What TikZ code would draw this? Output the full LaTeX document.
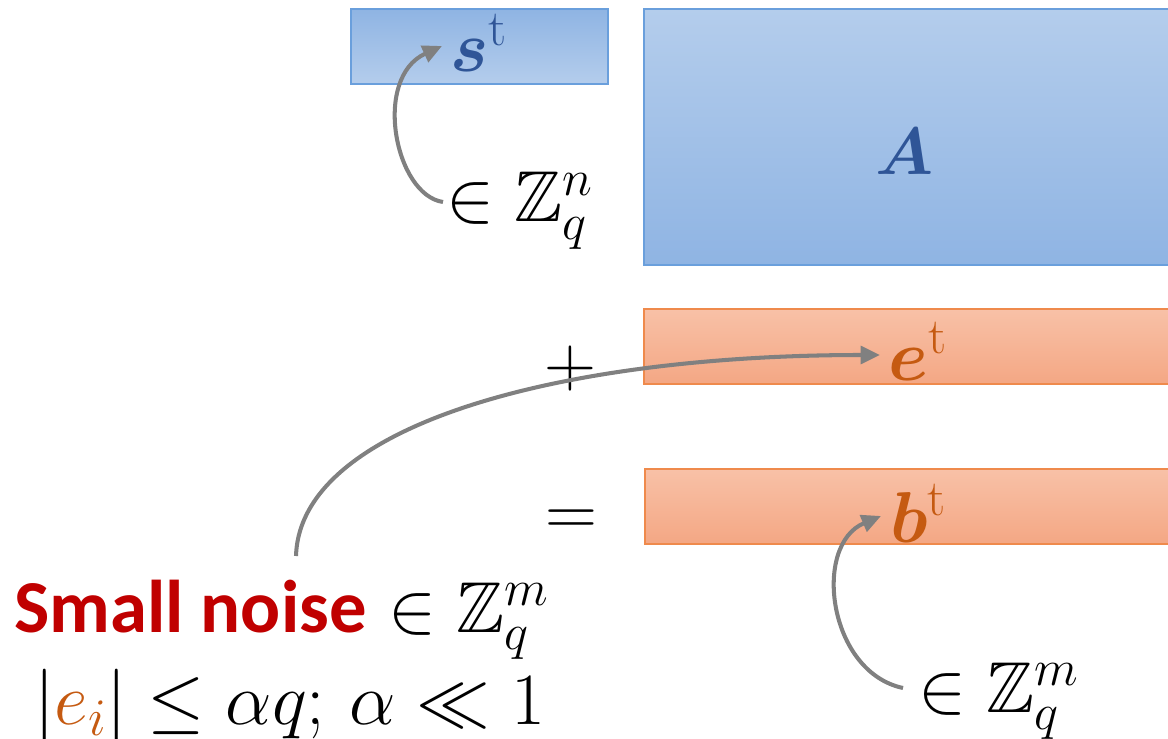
\documentclass[tikz,border=0pt]{standalone}
\usepackage{fix-cm}
\usepackage{amsmath,amssymb,bm}
\usepackage{fontspec}
\newfontfamily\calfont{Carlito}
\usetikzlibrary{arrows.meta}
\definecolor{bluetop}{HTML}{8FB4E3}
\definecolor{bluebot}{HTML}{B4CDEC}
\definecolor{blueline}{HTML}{6A9FDC}
\definecolor{bluetext}{HTML}{2F5597}
\definecolor{orgtop}{HTML}{F8C1A7}
\definecolor{orgbot}{HTML}{F4A784}
\definecolor{orgline}{HTML}{EF8A4C}
\definecolor{orgtext}{HTML}{C55A11}
\definecolor{noisered}{HTML}{C00000}
\definecolor{arrgray}{HTML}{808080}
\DeclareMathSizes{38}{38}{27}{19}
\DeclareMathSizes{41}{41}{29}{21}
\DeclareMathSizes{42}{42}{30}{21}
\tikzset{
  bigtxt/.style={inner sep=0pt, font=\fontsize{41}{46}\selectfont},
  midtxt/.style={inner sep=0pt, font=\fontsize{38}{44}\selectfont},
  bluebox/.style={draw=blueline, line width=0.8pt},
  orgbox/.style={draw=orgline, line width=0.8pt, shading=axis, top color=orgtop, bottom color=orgbot},
  garrow/.style={draw=arrgray, line width=2.3pt, -{Triangle[length=11pt,width=10pt]}}
}
\begin{document}
\begin{tikzpicture}[x=0.02cm,y=-0.02cm]
\useasboundingbox (0,0) rectangle (1168,739);
% boxes
\path[bluebox, shading=axis, top color=bluetop, bottom color=bluebot] (351,9) rectangle (608,84);
\path[bluebox, shading=axis, top color=bluebot, bottom color=bluetop] (644,9) rectangle (1172,265);
\path[orgbox] (644,309) rectangle (1172,384);
\path[orgbox] (645,469) rectangle (1172,544);
% labels
\node[bigtxt, anchor=base west] (s) at (450,72) {$\color{bluetext}\bm{s}^{\mathrm{t}}$};
\node[bigtxt, anchor=base west] (zn) at (446,222) {$\in\mathbb{Z}_q^n$};
\node[midtxt, anchor=base] (A) at (905,175) {$\color{bluetext}\bm{A}$};
\node[bigtxt] (plus) at (570,368) {$+$};
\node[bigtxt] (eq) at (571,523) {$=$};
\node[bigtxt, anchor=base west] (e) at (888,380) {$\color{orgtext}\bm{e}^{\mathrm{t}}$};
\node[bigtxt, anchor=base west] (b) at (890,542) {$\color{orgtext}\bm{b}^{\mathrm{t}}$};
\node[bigtxt, anchor=base west] (noise) at (14,632) {{\calfont\bfseries\fontsize{42.5}{48}\selectfont\color{noisered}Small noise} $\in\mathbb{Z}_q^m$};
\node[inner sep=0pt, font=\fontsize{42}{48}\selectfont, anchor=base west] (bound) at (34,724) {$|{\color{orgtext}e_i}|\le\alpha q;\,\alpha\ll 1$};
\node[bigtxt, anchor=base west] (zm) at (918,712) {$\in\mathbb{Z}_q^m$};
% arrow end points
\coordinate (s-tail) at (443,202);
\coordinate (s-tip) at (442,46);
\coordinate (e-tail) at (296,556);
\coordinate (e-tip) at (880,355);
\coordinate (b-tail) at (903,688);
\coordinate (b-tip) at (881,516);
% arrows
\draw[garrow] (s-tail) .. controls (395,195) and (372,78) .. (s-tip);
\draw[garrow] (e-tail) .. controls (300,425) and (560,355) .. (e-tip);
\draw[garrow] (b-tail) .. controls (828,672) and (812,545) .. (b-tip);
\end{tikzpicture}
\end{document}
